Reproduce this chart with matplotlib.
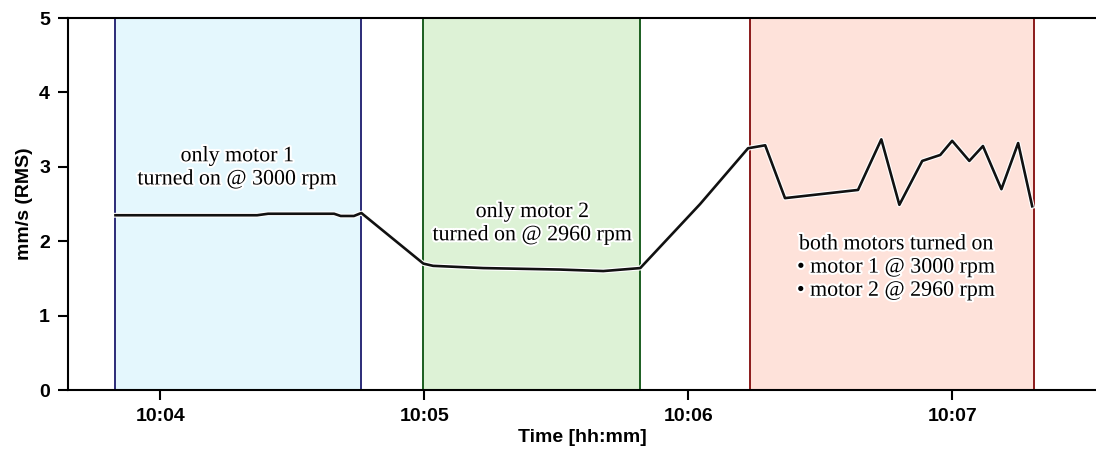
import matplotlib.pyplot as plt
import matplotlib.patheffects as pe
from matplotlib.ticker import FuncFormatter

plt.rcParams["font.family"] = "Liberation Sans"
plt.rcParams["font.weight"] = "bold"

# vibration level, time in seconds after 10:00:00
t_sec = [229.8, 262.0, 264.5, 279.5, 281.0, 284.0, 285.7, 299.8, 302.0, 313.4,
         330.9, 340.7, 349.1, 362.7, 373.6, 377.5, 382.0, 398.6, 403.9, 408.0,
         413.2, 417.3, 420.0, 423.9, 427.0, 431.2, 435.0, 438.2]
rms = [2.35, 2.35, 2.37, 2.37, 2.34, 2.34, 2.38, 1.70, 1.67, 1.64,
       1.62, 1.60, 1.64, 2.50, 3.25, 3.29, 2.58, 2.69, 3.37, 2.49,
       3.08, 3.16, 3.35, 3.08, 3.28, 2.70, 3.32, 2.47]

# operating phases: (start, end) in seconds after 10:00:00
phases = [(229.8, 285.7), (299.8, 349.1), (374.0, 438.5)]
phase_fill = ["#e4f7fd", "#ddf2d6", "#fee2da"]
phase_edge = ["#2b2b78", "#1b5e20", "#8b1a1a"]
phase_text = ["only motor 1\nturned on @ 3000 rpm",
              "only motor 2\nturned on @ 2960 rpm",
              "both motors turned on\n\u2022 motor 1 @ 3000 rpm\n\u2022 motor 2 @ 2960 rpm"]
text_pos = [(257.5, 2.98), (324.6, 2.23), (407.3, 1.64)]

tick_min = [4, 5, 6, 7]

fig = plt.figure(figsize=(10.96, 4.51), dpi=100)
ax = fig.add_axes([0.062, 0.135, 0.938, 0.825])

for (a, b), fc, ec in zip(phases, phase_fill, phase_edge):
    ax.axvspan(a, b, color=fc, lw=0, zorder=0)
    ax.axvline(a, color=ec, lw=1.4, zorder=1)
    ax.axvline(b, color=ec, lw=1.4, zorder=1)

ax.plot(t_sec, rms, color="#111111", lw=1.9, zorder=3,
        path_effects=[pe.withStroke(linewidth=3.5, foreground="white")])

for txt, (x, y) in zip(phase_text, text_pos):
    ax.text(x, y, txt, ha="center", va="center", multialignment="center",
            family="Liberation Serif", fontweight="normal", fontsize=15.8,
            linespacing=1.3, zorder=4,
            path_effects=[pe.withStroke(linewidth=3, foreground="white")])

ax.set_xlim(219.0, 452.7)
ax.set_ylim(0, 5)
ax.set_xticks([m * 60 for m in tick_min])
ax.xaxis.set_major_formatter(FuncFormatter(lambda v, p: f"10:{int(round(v / 60)):02d}"))
ax.set_yticks(range(6))

ax.spines["right"].set_visible(False)
for s in ["left", "bottom", "top"]:
    ax.spines[s].set_linewidth(1.5)
ax.tick_params(direction="out", length=7, width=1.5, pad=6, labelsize=14)

ax.set_xlabel("Time [hh:mm]", fontsize=14, fontweight="bold", labelpad=3)
ax.set_ylabel("mm/s (RMS)", fontsize=14, fontweight="bold", labelpad=4)

fig.savefig("out.png", dpi=100)
